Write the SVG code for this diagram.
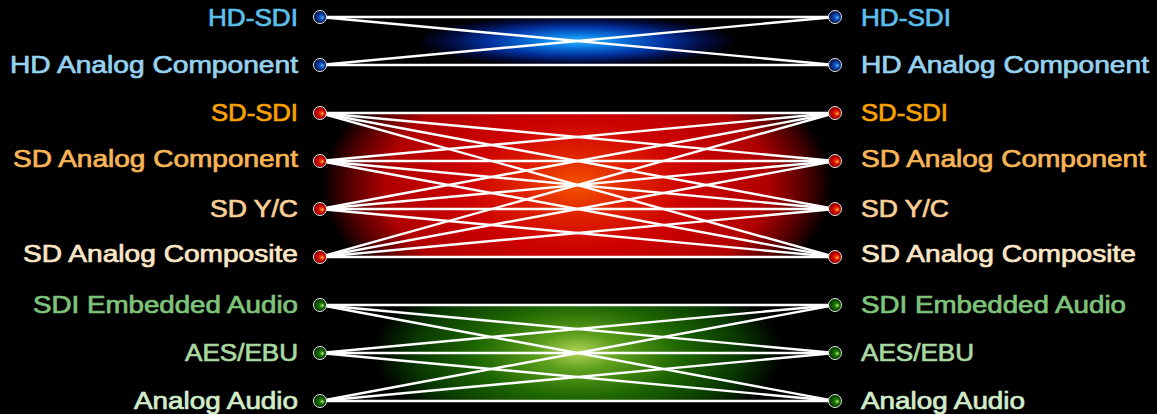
<svg xmlns="http://www.w3.org/2000/svg" width="1157" height="414" viewBox="0 0 1157 414">
<defs>
<radialGradient id="gBlue" cx="0.5" cy="0.5" r="0.5">
<stop offset="0" stop-color="#30b8ff"/>
<stop offset="0.25" stop-color="#0a78e0"/>
<stop offset="0.55" stop-color="#0232a0"/>
<stop offset="0.8" stop-color="#010c40"/>
<stop offset="1" stop-color="#000000"/>
</radialGradient>
<radialGradient id="gRed" cx="0.5" cy="0.5" r="0.5">
<stop offset="0" stop-color="#f45400"/>
<stop offset="0.2" stop-color="#e02400"/>
<stop offset="0.45" stop-color="#cc0000"/>
<stop offset="0.75" stop-color="#b00000"/>
<stop offset="0.9" stop-color="#500000"/>
<stop offset="1" stop-color="#000000"/>
</radialGradient>
<radialGradient id="gGreen" cx="0.5" cy="0.5" r="0.5">
<stop offset="0" stop-color="#b4d458"/>
<stop offset="0.2" stop-color="#5c9e1c"/>
<stop offset="0.5" stop-color="#1e6600"/>
<stop offset="0.8" stop-color="#083800"/>
<stop offset="1" stop-color="#000000"/>
</radialGradient>
<radialGradient id="nBlue" cx="0.5" cy="0.5" r="0.5" fx="0.72" fy="0.55">
<stop offset="0" stop-color="#60b8ff"/>
<stop offset="0.35" stop-color="#1050c0"/>
<stop offset="1" stop-color="#000830"/>
</radialGradient>
<radialGradient id="nRed" cx="0.5" cy="0.5" r="0.5" fx="0.72" fy="0.55">
<stop offset="0" stop-color="#ffd850"/>
<stop offset="0.3" stop-color="#e83000"/>
<stop offset="0.6" stop-color="#c80000"/>
<stop offset="1" stop-color="#700000"/>
</radialGradient>
<radialGradient id="nGreen" cx="0.5" cy="0.5" r="0.5" fx="0.72" fy="0.55">
<stop offset="0" stop-color="#d0f090"/>
<stop offset="0.35" stop-color="#1a7a00"/>
<stop offset="1" stop-color="#002a00"/>
</radialGradient>
<clipPath id="cBlue"><rect x="320" y="17" width="515" height="48"/></clipPath>
<clipPath id="cRed"><rect x="320" y="113" width="515" height="145"/></clipPath>
<clipPath id="cGreen"><rect x="320" y="305" width="515" height="97"/></clipPath>
</defs>
<style>
text{font-family:"Liberation Sans",Arial,sans-serif;font-size:23px;stroke-width:0.7px;}
.l{text-anchor:end;}
.r{text-anchor:start;}
.c1{fill:#5cbfe9;stroke:#5cbfe9;}
.c2{fill:#94d2ef;stroke:#94d2ef;}
.c3{fill:#f7a200;stroke:#f7a200;}
.c4{fill:#f7b555;stroke:#f7b555;}
.c5{fill:#f9cf96;stroke:#f9cf96;}
.c6{fill:#fbe6c6;stroke:#fbe6c6;}
.c7{fill:#7ec47a;stroke:#7ec47a;}
.c8{fill:#a9d9a1;stroke:#a9d9a1;}
.c9{fill:#d2ecca;stroke:#d2ecca;}
#connectors line{stroke:#ffffff;stroke-width:2.4;stroke-linecap:round;}
circle.n{stroke:#e8e8e8;stroke-width:1;}
.nb{fill:url(#nBlue);}
.nr{fill:url(#nRed);}
.ng{fill:url(#nGreen);}
</style>
<rect width="1157" height="414" fill="#000000"/>
<g id="glows">
<ellipse cx="577" cy="41" rx="160" ry="26" fill="url(#gBlue)" clip-path="url(#cBlue)"/>
<ellipse cx="577" cy="185" rx="255" ry="145" fill="url(#gRed)" clip-path="url(#cRed)"/>
<ellipse cx="578" cy="352" rx="205" ry="92" fill="url(#gGreen)" clip-path="url(#cGreen)"/>
</g>
<g id="connectors">
<line x1="320" y1="17" x2="835" y2="17"/>
<line x1="320" y1="17" x2="835" y2="65"/>
<line x1="320" y1="65" x2="835" y2="17"/>
<line x1="320" y1="65" x2="835" y2="65"/>
<line x1="320" y1="113" x2="835" y2="113"/>
<line x1="320" y1="113" x2="835" y2="161"/>
<line x1="320" y1="113" x2="835" y2="209"/>
<line x1="320" y1="113" x2="835" y2="257"/>
<line x1="320" y1="161" x2="835" y2="113"/>
<line x1="320" y1="161" x2="835" y2="161"/>
<line x1="320" y1="161" x2="835" y2="209"/>
<line x1="320" y1="161" x2="835" y2="257"/>
<line x1="320" y1="209" x2="835" y2="113"/>
<line x1="320" y1="209" x2="835" y2="161"/>
<line x1="320" y1="209" x2="835" y2="209"/>
<line x1="320" y1="209" x2="835" y2="257"/>
<line x1="320" y1="257" x2="835" y2="113"/>
<line x1="320" y1="257" x2="835" y2="161"/>
<line x1="320" y1="257" x2="835" y2="209"/>
<line x1="320" y1="257" x2="835" y2="257"/>
<line x1="320" y1="305" x2="835" y2="305"/>
<line x1="320" y1="305" x2="835" y2="353"/>
<line x1="320" y1="305" x2="835" y2="401"/>
<line x1="320" y1="353" x2="835" y2="305"/>
<line x1="320" y1="353" x2="835" y2="353"/>
<line x1="320" y1="353" x2="835" y2="401"/>
<line x1="320" y1="401" x2="835" y2="305"/>
<line x1="320" y1="401" x2="835" y2="353"/>
<line x1="320" y1="401" x2="835" y2="401"/>
</g>
<g id="left-hd-sdi"><circle class="n nb" cx="320" cy="17" r="6.5"/><text class="l c1" x="298" y="26" textLength="90" lengthAdjust="spacingAndGlyphs">HD-SDI</text></g>
<g id="left-hd-analog-component"><circle class="n nb" cx="320" cy="65" r="6.5"/><text class="l c2" x="298" y="73" textLength="288" lengthAdjust="spacingAndGlyphs">HD Analog Component</text></g>
<g id="left-sd-sdi"><circle class="n nr" cx="320" cy="113" r="6.5"/><text class="l c3" x="298" y="120.5" textLength="87" lengthAdjust="spacingAndGlyphs">SD-SDI</text></g>
<g id="left-sd-analog-component"><circle class="n nr" cx="320" cy="161" r="6.5"/><text class="l c4" x="298" y="167" textLength="285" lengthAdjust="spacingAndGlyphs">SD Analog Component</text></g>
<g id="left-sd-yc"><circle class="n nr" cx="320" cy="209" r="6.5"/><text class="l c5" x="298" y="216.5" textLength="88" lengthAdjust="spacingAndGlyphs">SD Y/C</text></g>
<g id="left-sd-analog-composite"><circle class="n nr" cx="320" cy="257" r="6.5"/><text class="l c6" x="298" y="261.5" textLength="275" lengthAdjust="spacingAndGlyphs">SD Analog Composite</text></g>
<g id="left-sdi-embedded-audio"><circle class="n ng" cx="320" cy="305" r="6.5"/><text class="l c7" x="298" y="313" textLength="265" lengthAdjust="spacingAndGlyphs">SDI Embedded Audio</text></g>
<g id="left-aes-ebu"><circle class="n ng" cx="320" cy="353" r="6.5"/><text class="l c8" x="298" y="361" textLength="113" lengthAdjust="spacingAndGlyphs">AES/EBU</text></g>
<g id="left-analog-audio"><circle class="n ng" cx="320" cy="401" r="6.5"/><text class="l c9" x="298" y="408.5" textLength="164" lengthAdjust="spacingAndGlyphs">Analog Audio</text></g>
<g id="right-hd-sdi"><circle class="n nb" cx="835" cy="17" r="6.5"/><text class="r c1" x="861" y="26" textLength="90" lengthAdjust="spacingAndGlyphs">HD-SDI</text></g>
<g id="right-hd-analog-component"><circle class="n nb" cx="835" cy="65" r="6.5"/><text class="r c2" x="861" y="73" textLength="288" lengthAdjust="spacingAndGlyphs">HD Analog Component</text></g>
<g id="right-sd-sdi"><circle class="n nr" cx="835" cy="113" r="6.5"/><text class="r c3" x="861" y="120.5" textLength="87" lengthAdjust="spacingAndGlyphs">SD-SDI</text></g>
<g id="right-sd-analog-component"><circle class="n nr" cx="835" cy="161" r="6.5"/><text class="r c4" x="861" y="167" textLength="285" lengthAdjust="spacingAndGlyphs">SD Analog Component</text></g>
<g id="right-sd-yc"><circle class="n nr" cx="835" cy="209" r="6.5"/><text class="r c5" x="861" y="216.5" textLength="88" lengthAdjust="spacingAndGlyphs">SD Y/C</text></g>
<g id="right-sd-analog-composite"><circle class="n nr" cx="835" cy="257" r="6.5"/><text class="r c6" x="861" y="261.5" textLength="275" lengthAdjust="spacingAndGlyphs">SD Analog Composite</text></g>
<g id="right-sdi-embedded-audio"><circle class="n ng" cx="835" cy="305" r="6.5"/><text class="r c7" x="861" y="313" textLength="265" lengthAdjust="spacingAndGlyphs">SDI Embedded Audio</text></g>
<g id="right-aes-ebu"><circle class="n ng" cx="835" cy="353" r="6.5"/><text class="r c8" x="861" y="361" textLength="113" lengthAdjust="spacingAndGlyphs">AES/EBU</text></g>
<g id="right-analog-audio"><circle class="n ng" cx="835" cy="401" r="6.5"/><text class="r c9" x="861" y="408.5" textLength="164" lengthAdjust="spacingAndGlyphs">Analog Audio</text></g>
</svg>
